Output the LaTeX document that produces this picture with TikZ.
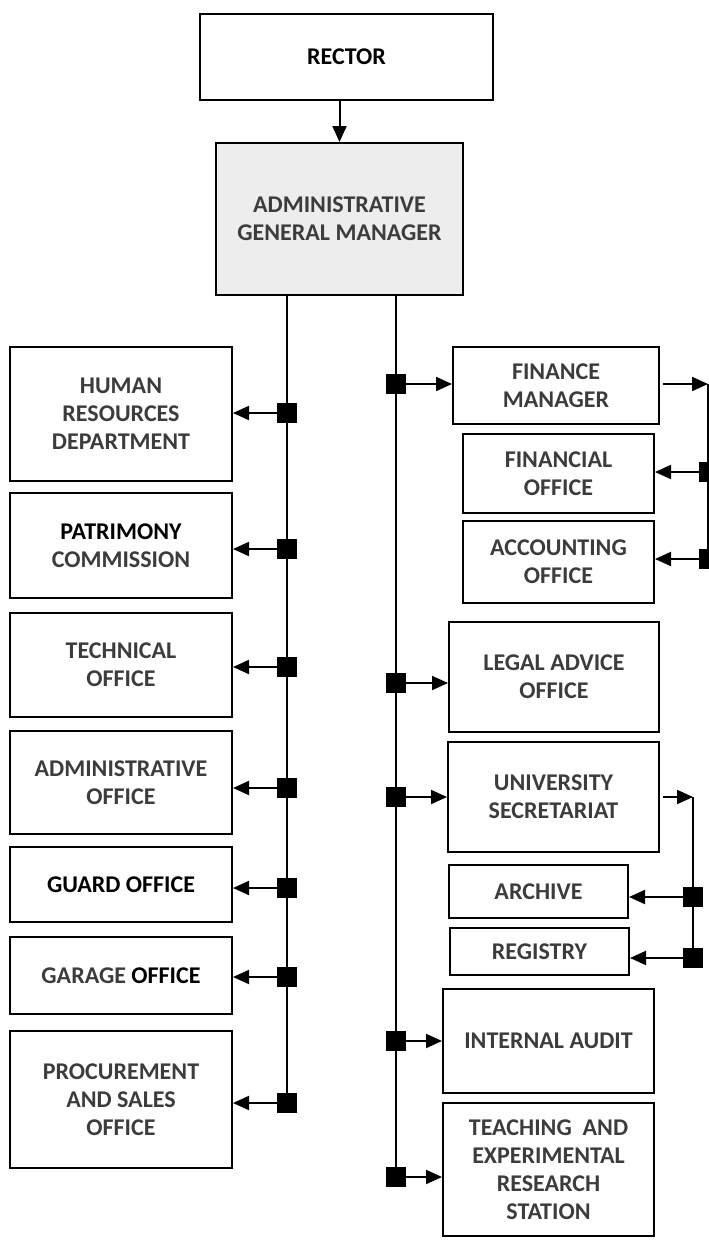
\documentclass[tikz,border=0pt]{standalone}
\usepackage{fontspec}
\setmainfont{Carlito}
\usetikzlibrary{arrows.meta,calc}
\definecolor{boxtext}{HTML}{3C3C3C}
\definecolor{mgrfill}{HTML}{EDEDED}

\begin{document}
\begin{tikzpicture}[x=1pt,y=-1pt,
  office/.style={rectangle,draw,line width=2pt,align=center,text=boxtext,inner sep=2pt,
    font=\fontsize{24}{28}\selectfont\bfseries},
  leftoffice/.style={office,minimum width=222pt},
  joint/.style={rectangle,fill=black,minimum size=20pt,inner sep=0pt},
  link/.style={line width=2pt,-{Triangle[length=16pt,width=14pt]}},
  trunk/.style={line width=1.8pt}]
    \useasboundingbox (0,0) rectangle (709,1240);
    % Top
    \node[office,text=black,minimum width=293pt,minimum height=86pt] (rector) at (346.5,57) {RECTOR};
    \node[office,fill=mgrfill,minimum width=247pt,minimum height=152pt] (agm) at (339.5,219)
      {ADMINISTRATIVE\\GENERAL MANAGER};
    \draw[link] (rector.south -| agm.north) -- (agm.north);
    % Left column
    \node[leftoffice,minimum height=134pt] (hr) at (121,414) {HUMAN\\RESOURCES\\DEPARTMENT};
    \node[leftoffice,minimum height=105pt] (patr) at (121,545.5) {\textcolor{black}{PATRIMONY}\\COMMISSION};
    \node[leftoffice,minimum height=104pt] (tech) at (121,665) {TECHNICAL\\OFFICE};
    \node[leftoffice,minimum height=103pt] (admoff) at (121,782.5) {ADMINISTRATIVE\\OFFICE};
    \node[leftoffice,text=black,minimum height=75pt] (guard) at (121,884.5) {GUARD OFFICE};
    \node[leftoffice,minimum height=77pt] (garage) at (121,975.5) {GARAGE \textcolor{black}{OFFICE}};
    \node[leftoffice,minimum height=137pt] (proc) at (121,1099.5) {PROCUREMENT\\AND SALES\\OFFICE};
    % Right column
    \node[office,minimum width=206pt,minimum height=77pt] (fin) at (556,385.5) {FINANCE\\MANAGER};
    \node[office,minimum width=191pt,minimum height=79pt] (finoff) at (558.5,473.5) {FINANCIAL\\OFFICE};
    \node[office,minimum width=191pt,minimum height=82pt] (acc) at (558.5,562) {ACCOUNTING\\OFFICE};
    \node[office,minimum width=210pt,minimum height=110pt] (legal) at (554,677) {LEGAL ADVICE\\OFFICE};
    \node[office,minimum width=211pt,minimum height=110pt] (univ) at (553.5,797) {UNIVERSITY\\SECRETARIAT};
    \node[office,minimum width=179pt,minimum height=53pt] (archive) at (538.5,891.5) {ARCHIVE};
    \node[office,minimum width=179pt,minimum height=47pt] (registry) at (539.5,951.5) {REGISTRY};
    \node[office,minimum width=211pt,minimum height=104pt] (audit) at (548.5,1041) {INTERNAL AUDIT};
    \node[office,minimum width=211pt,minimum height=133pt] (teach) at (548.5,1169.5)
      {TEACHING\ \ AND\\EXPERIMENTAL\\RESEARCH\\STATION};
    % Joints on the left trunk
    \foreach \name/\y in {hr/413,patr/549,tech/667,admoff/788,guard/888,garage/977,proc/1103}
      \node[joint] (j-\name) at (287,\y) {};
    \draw[trunk] (agm.south -| j-hr) -- (j-proc.center);
    \foreach \name in {hr,patr,tech,admoff,guard,garage,proc}
      \draw[link] (j-\name) -- (j-\name -| \name.east);
    % Joints on the right trunk
    \foreach \name/\y in {fin/384,legal/683,univ/797,audit/1041,teach/1177}
      \node[joint] (j-\name) at (396,\y) {};
    \draw[trunk] (agm.south -| j-fin) -- (j-teach.center);
    \foreach \name in {fin,legal,univ,audit,teach}
      \draw[link] (j-\name) -- (j-\name -| \name.west);
    % Finance manager branch
    \coordinate (fin-bus) at (708,384);
    \node[joint] (j-finoff) at (709,472) {};
    \node[joint] (j-acc) at (709,559) {};
    \draw[link,shorten <=3pt] (fin.east |- fin-bus) -- (fin-bus);
    \draw[trunk] (fin-bus) -- (fin-bus |- j-acc);
    \foreach \name in {finoff,acc}
      \draw[link] (j-\name) -- (j-\name -| \name.east);
    % University secretariat branch
    \coordinate (univ-bus) at (693,797);
    \node[joint] (j-archive) at (693,897) {};
    \node[joint] (j-registry) at (693,958) {};
    \draw[link,shorten <=3pt] (univ.east |- univ-bus) -- (univ-bus);
    \draw[trunk] (univ-bus) -- (j-registry.center);
    \foreach \name in {archive,registry}
      \draw[link] (j-\name) -- (j-\name -| \name.east);
\end{tikzpicture}
\end{document}
